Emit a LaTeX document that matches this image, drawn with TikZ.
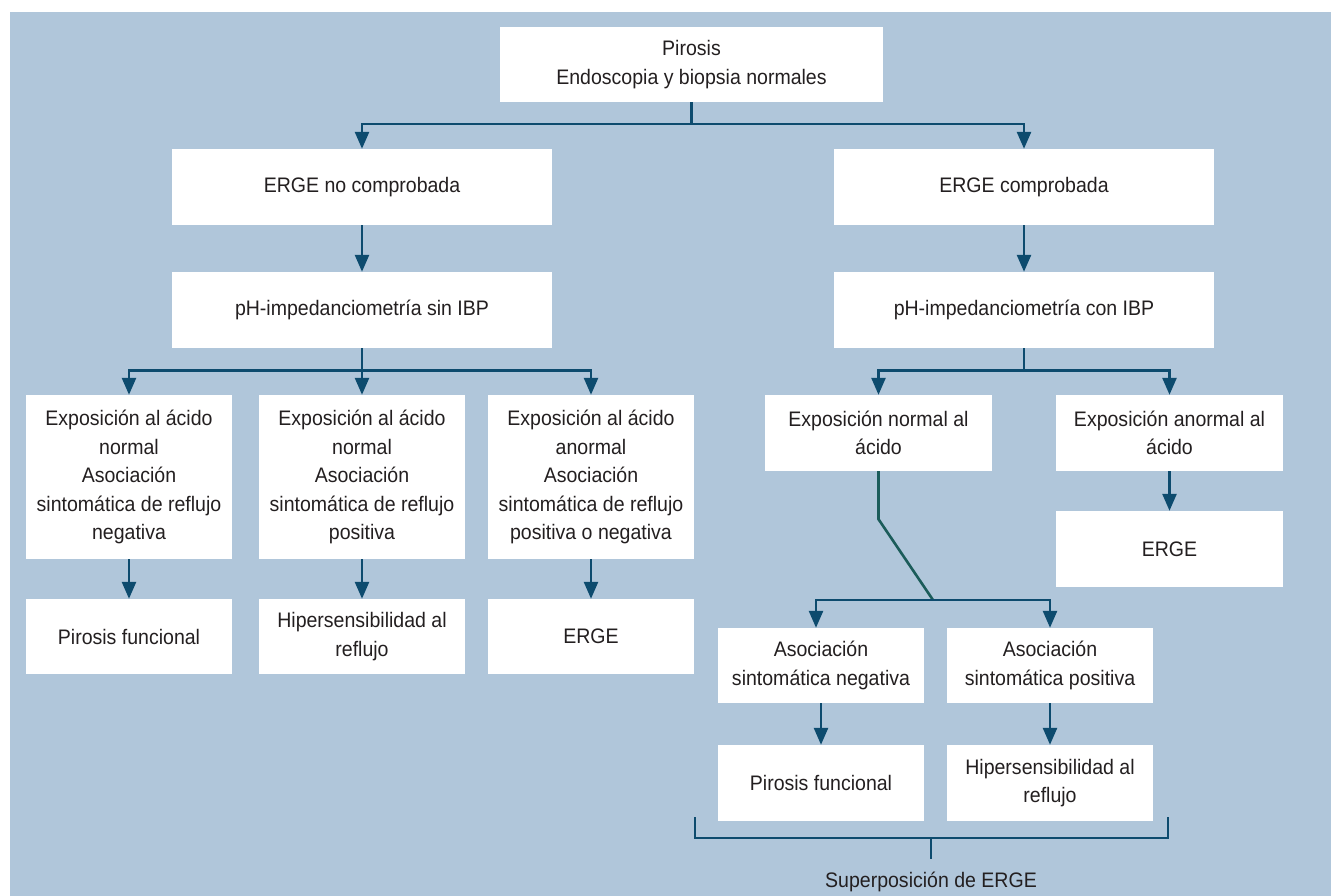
\documentclass[tikz,border=0pt]{standalone}
\usepackage{fontspec}
\setmainfont{Liberation Sans}[FakeStretch=0.93]
\usetikzlibrary{arrows.meta}
\definecolor{bgblue}{HTML}{B0C6DA}
\definecolor{lnblue}{HTML}{0D4B6E}
\definecolor{lnteal}{HTML}{1B5C5A}
\definecolor{txgray}{HTML}{231F20}
\begin{document}
\begin{tikzpicture}[x=1pt,y=-1pt,
  box/.style={fill=white, draw=none, inner sep=0pt, align=center, text=txgray,
              font=\fontsize{21}{28.5}\selectfont},
  lbl/.style={inner sep=0pt, align=center, text=txgray, font=\fontsize{21}{28.5}\selectfont},
  conn/.style={draw=lnblue, line width=2.6pt},
  arr/.style={conn, -{Triangle[length=17pt,width=14pt]}},
  tline/.style={draw=lnteal, line width=2.6pt}]
\useasboundingbox (0,0) rectangle (1331,896);
\fill[white] (0,0) rectangle (1331,896);
\fill[bgblue] (10,12) rectangle (1331,896);

% nodes
\node[box, minimum width=383pt, minimum height=75pt] (top) at (691.5,64.5) {Pirosis\\Endoscopia y biopsia normales};
\node[box, minimum width=380pt, minimum height=76pt] (nc) at (362,187) {ERGE no comprobada};
\node[box, minimum width=380pt, minimum height=76pt] (c) at (1024,187) {ERGE comprobada};
\node[box, minimum width=380pt, minimum height=76pt] (phs) at (362,310) {pH-impedanciometría sin IBP};
\node[box, minimum width=380pt, minimum height=76pt] (phc) at (1024,310) {pH-impedanciometría con IBP};

\node[box, minimum width=206pt, minimum height=164pt] (e1) at (129,477) {Exposición al ácido\\normal\\Asociación\\sintomática de reflujo\\negativa};
\node[box, minimum width=206pt, minimum height=164pt] (e2) at (362,477) {Exposición al ácido\\normal\\Asociación\\sintomática de reflujo\\positiva};
\node[box, minimum width=206pt, minimum height=164pt] (e3) at (591,477) {Exposición al ácido\\anormal\\Asociación\\sintomática de reflujo\\positiva o negativa};
\node[box, minimum width=206pt, minimum height=75pt] (r1) at (129,636.5) {Pirosis funcional};
\node[box, minimum width=206pt, minimum height=75pt] (r2) at (362,636.5) {Hipersensibilidad al\\reflujo};
\node[box, minimum width=206pt, minimum height=75pt] (r3) at (591,636.5) {ERGE};

\node[box, minimum width=227pt, minimum height=76pt] (en) at (878.5,433) {Exposición normal al\\ácido};
\node[box, minimum width=227pt, minimum height=76pt] (ea) at (1169.5,433) {Exposición anormal al\\ácido};
\node[box, minimum width=227pt, minimum height=76pt] (eg) at (1169.5,549) {ERGE};

\node[box, minimum width=206pt, minimum height=75pt] (an) at (821,665.5) {Asociación\\sintomática negativa};
\node[box, minimum width=206pt, minimum height=75pt] (ap) at (1050,665.5) {Asociación\\sintomática positiva};
\node[box, minimum width=206pt, minimum height=76pt] (pf) at (821,783) {Pirosis funcional};
\node[box, minimum width=206pt, minimum height=76pt] (hr) at (1050,783) {Hipersensibilidad al\\reflujo};

\node[lbl] (sup) at (931,882) {Superposición de ERGE};

% connectors
\draw[arr] (top.south) -- ++(0,22) -| (nc.north);
\draw[arr] (top.south) -- ++(0,22) -| (c.north);
\draw[arr] (nc) -- (phs);
\draw[arr] (c) -- (phc);

\draw[arr] (phs.south) -- ++(0,22) -| (e1.north);
\draw[arr] (phs.south) -- ++(0,22) -| (e2.north);
\draw[arr] (phs.south) -- ++(0,22) -| (e3.north);
\draw[arr] (e1) -- (r1);
\draw[arr] (e2) -- (r2);
\draw[arr] (e3) -- (r3);

\draw[arr] (phc.south) -- ++(0,22) -| (en.north);
\draw[arr] (phc.south) -- ++(0,22) -| (ea.north);
\draw[arr] (ea) -- (eg);

\coordinate (j) at (933,600);
\draw[tline] (en.south) -- ++(0,48) -- (j);
\draw[arr] (j) -| ([xshift=-5pt]an.north);
\draw[arr] (j) -| (ap.north);
\draw[arr] (an) -- (pf);
\draw[arr] (ap) -- (hr);

\coordinate (bl) at (695,817);
\coordinate (br) at (1168,817);
\coordinate (bm) at (931,838);
\draw[conn] (bl) |- (bm) -| (br);
\draw[conn] (bm) -- ++(0,21);
\end{tikzpicture}
\end{document}
